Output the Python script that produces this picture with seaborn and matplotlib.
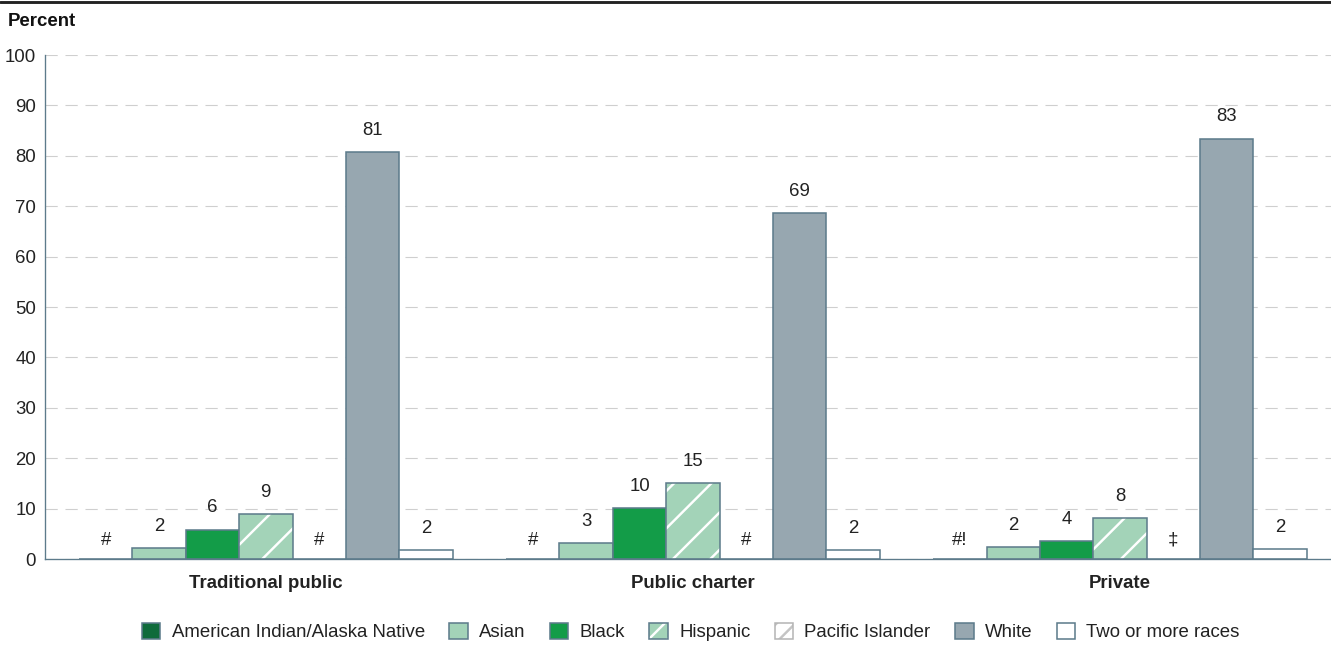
import numpy as np
import pandas as pd
import matplotlib
matplotlib.use("Agg")
import matplotlib.pyplot as plt
from matplotlib.patches import Patch, Rectangle
from matplotlib.lines import Line2D
from matplotlib.legend_handler import HandlerTuple
import seaborn as sns

# ---- data ----
categories = ["Traditional public", "Public charter", "Private"]
races = ["American Indian/Alaska Native", "Asian", "Black", "Hispanic",
         "Pacific Islander", "White", "Two or more races"]
aian = [0.0, 0.0, 0.0]
asian = [2.2, 3.2, 2.4]
black = [5.8, 10.1, 3.6]
hispanic = [8.9, 15.1, 8.1]
pacific = [0.0, 0.0, 0.0]
white = [80.7, 68.6, 83.4]
two_more = [1.8, 1.8, 2.0]

aian_lbl = ["#", "#", "#!"]
asian_lbl = ["2", "3", "2"]
black_lbl = ["6", "10", "4"]
hispanic_lbl = ["9", "15", "8"]
pacific_lbl = ["#", "#", "\u2021"]
white_lbl = ["81", "69", "83"]
two_lbl = ["2", "2", "2"]

yticks = [0, 10, 20, 30, 40, 50, 60, 70, 80, 90, 100]

series = [aian, asian, black, hispanic, pacific, white, two_more]
labels = [aian_lbl, asian_lbl, black_lbl, hispanic_lbl, pacific_lbl, white_lbl, two_lbl]

colors = ["#0f6b3b", "#a3d3b8", "#139c48", "#a3d3b8", "#ffffff", "#97a7b0", "#ffffff"]
edge = "#5d7b8b"

dpi = 112
k = 160 / dpi  # point scale factor
FS = 8.4 * k
LW = 0.7 * k

rows = []
for r, vals in zip(races, series):
    for c, v in zip(categories, vals):
        rows.append({"category": c, "race": r, "value": v})
df = pd.DataFrame(rows)

sns.set_style("white")
plt.rcParams["font.family"] = ["Liberation Sans", "DejaVu Sans"]
plt.rcParams["hatch.linewidth"] = 1.1 * k
plt.rcParams["lines.scale_dashes"] = False

fig = plt.figure(figsize=(1331 / dpi, 646 / dpi), dpi=dpi)
ax = fig.add_axes([45 / 1331, 1 - 559 / 646, (1331 - 45) / 1331, (559 - 55) / 646])

sns.barplot(data=df, x="category", y="value", hue="race", hue_order=races,
            order=categories, palette=colors, width=0.875, gap=0,
            edgecolor=edge, linewidth=LW, saturation=1, legend=False, ax=ax,
            errorbar=None)

# hatch overlays & labels
for i, cont in enumerate(ax.containers):
    for j, p in enumerate(cont.patches):
        if races[i] == "Hispanic":
            p.set_hatch("/")
            p.set_edgecolor("white")
            p.set_linewidth(0)
            ax.add_patch(Rectangle(p.get_xy(), p.get_width(), p.get_height(),
                                   fill=False, edgecolor=edge, linewidth=LW,
                                   zorder=p.get_zorder() + 0.1))
        x = p.get_x() + p.get_width() / 2
        h = p.get_height()
        off = (4.5 if h == 0 else 6) * k
        ax.annotate(labels[i][j], (x, h), xytext=(0, off), textcoords="offset points",
                    ha="center", va="bottom", fontsize=FS, color="#222222")

ax.set_xlim(-0.517, 2.494)
ax.set_ylim(0, 100)
ax.set_yticks(yticks)
ax.set_yticklabels([str(t) for t in yticks])
ax.set_xlabel("")
ax.set_ylabel("")
ax.tick_params(axis="y", length=0, pad=4 * k, labelsize=FS, labelcolor="#222222")
ax.tick_params(axis="x", length=0, pad=7 * k, labelsize=FS, labelcolor="#222222")
for lab in ax.get_xticklabels():
    lab.set_fontweight("bold")

ax.set_axisbelow(True)
ax.yaxis.grid(True, color="#cfcfcf", linewidth=0.5 * k,
              linestyle=(0, (5.5 * k, 3.5 * k)))
ax.xaxis.grid(False)
for s in ["top", "right"]:
    ax.spines[s].set_visible(False)
for s in ["left", "bottom"]:
    ax.spines[s].set_color(edge)
    ax.spines[s].set_linewidth(0.6 * k)

fig.text(8 / 1331, 1 - 22 / 646, "Percent", fontsize=FS, fontweight="bold",
         va="center", ha="left", color="#111111")
fig.add_artist(Line2D([0, 1], [1 - 2 / 646, 1 - 2 / 646], transform=fig.transFigure,
                      color="#222222", linewidth=1.3 * k))

# legend
handles = []
for r, c in zip(races, colors):
    if r == "Hispanic":
        h = (Patch(facecolor=c, edgecolor="white", hatch="//", linewidth=0),
             Patch(fill=False, edgecolor=edge, linewidth=LW))
    elif r == "Pacific Islander":
        h = (Patch(facecolor="white", edgecolor="#c4c4c4", hatch="//", linewidth=0),
             Patch(fill=False, edgecolor="#b5b5b5", linewidth=LW))
    else:
        h = Patch(facecolor=c, edgecolor=edge, linewidth=LW)
    handles.append(h)

fig.legend(handles, races, loc="center", bbox_to_anchor=(0.519, 1 - 632 / 646),
           ncol=7, frameon=False, fontsize=FS, handlelength=1.0, handleheight=1.0,
           handletextpad=0.6, columnspacing=1.3, labelcolor="#222222",
           handler_map={tuple: HandlerTuple(ndivide=1, pad=0)})

fig.savefig("out.png", dpi=dpi)
